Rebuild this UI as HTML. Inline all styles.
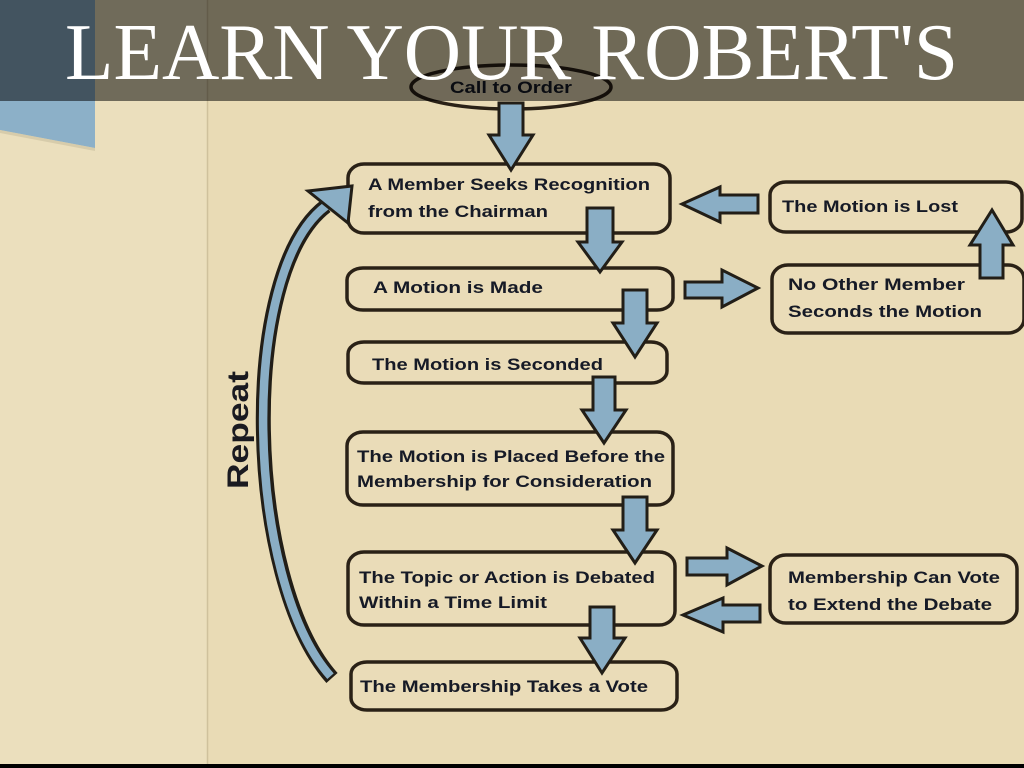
<!DOCTYPE html>
<html>
<head>
<meta charset="utf-8">
<style>
html,body{margin:0;padding:0;background:#e9dbb6;}
svg{display:block;}
.t{font-family:"Liberation Sans",Arial,sans-serif;font-weight:bold;font-size:17px;fill:#161a26;}
.box{fill:#eadcb8;stroke:#2a2116;stroke-width:3.5;}
.ar{fill:#8aaec5;stroke:#221e17;stroke-width:3;stroke-linejoin:miter;}
</style>
</head>
<body>
<svg width="1024" height="768" viewBox="0 0 1024 768" xmlns="http://www.w3.org/2000/svg">
  <!-- background -->
  <rect x="0" y="0" width="1024" height="768" fill="#e9dbb5"/>
  <rect x="0" y="0" width="207" height="768" fill="#ebdfbd"/>
  <line x1="207.5" y1="0" x2="207.5" y2="764" stroke="#cfc19c" stroke-width="1.5"/>

  <!-- blue panel top-left -->
  <polygon points="0,0 95,0 95,148 0,130" fill="#8cb0c8"/>
  <polygon points="0,130 95,148 95,151 0,133" fill="#c9bf9f" opacity="0.6"/>

  <!-- Call to Order ellipse -->
  <ellipse cx="511" cy="87" rx="100" ry="22" class="box"/>
  <text class="t" x="450" y="93" textLength="122" lengthAdjust="spacingAndGlyphs">Call to Order</text>

  <!-- Boxes -->
  <rect class="box" x="348" y="164" width="322" height="69" rx="16" ry="14"/>
  <text class="t" x="368" y="190" textLength="282" lengthAdjust="spacingAndGlyphs">A Member Seeks Recognition</text>
  <text class="t" x="368" y="217" textLength="180" lengthAdjust="spacingAndGlyphs">from the Chairman</text>

  <rect class="box" x="347" y="268" width="326" height="42" rx="16" ry="12"/>
  <text class="t" x="373" y="293" textLength="170" lengthAdjust="spacingAndGlyphs">A Motion is Made</text>

  <rect class="box" x="348" y="342" width="319" height="41" rx="16" ry="12"/>
  <text class="t" x="372" y="370" textLength="231" lengthAdjust="spacingAndGlyphs">The Motion is Seconded</text>

  <rect class="box" x="347" y="432" width="326" height="73" rx="16" ry="14"/>
  <text class="t" x="357" y="462" textLength="308" lengthAdjust="spacingAndGlyphs">The Motion is Placed Before the</text>
  <text class="t" x="357" y="487" textLength="295" lengthAdjust="spacingAndGlyphs">Membership for Consideration</text>

  <rect class="box" x="348" y="552" width="327" height="73" rx="16" ry="14"/>
  <text class="t" x="359" y="583" textLength="296" lengthAdjust="spacingAndGlyphs">The Topic or Action is Debated</text>
  <text class="t" x="359" y="608" textLength="188" lengthAdjust="spacingAndGlyphs">Within a Time Limit</text>

  <rect class="box" x="351" y="662" width="326" height="48" rx="16" ry="12"/>
  <text class="t" x="360" y="692" textLength="288" lengthAdjust="spacingAndGlyphs">The Membership Takes a Vote</text>

  <!-- Right boxes -->
  <rect class="box" x="770" y="182" width="252" height="50" rx="16" ry="13"/>
  <text class="t" x="782" y="212" textLength="176" lengthAdjust="spacingAndGlyphs">The Motion is Lost</text>

  <rect class="box" x="772" y="265" width="252" height="68" rx="16" ry="14"/>
  <text class="t" x="788" y="290" textLength="177" lengthAdjust="spacingAndGlyphs">No Other Member</text>
  <text class="t" x="788" y="317" textLength="194" lengthAdjust="spacingAndGlyphs">Seconds the Motion</text>

  <rect class="box" x="770" y="555" width="247" height="68" rx="16" ry="14"/>
  <text class="t" x="788" y="583" textLength="212" lengthAdjust="spacingAndGlyphs">Membership Can Vote</text>
  <text class="t" x="788" y="610" textLength="204" lengthAdjust="spacingAndGlyphs">to Extend the Debate</text>

  <!-- Down arrows -->
  <polygon class="ar" points="499,103 523,103 523,135 533,135 511,170 489,135 499,135"/>
  <polygon class="ar" points="587,208 613,208 613,242 622,242 600,272 578,242 587,242"/>
  <polygon class="ar" points="623,290 647,290 647,323 657,323 635,357 613,323 623,323"/>
  <polygon class="ar" points="593,377 615,377 615,410 626,410 604,443 582,410 593,410"/>
  <polygon class="ar" points="623,497 647,497 647,530 657,530 635,563 613,530 623,530"/>
  <polygon class="ar" points="590,607 614,607 614,638 625,638 602,673 580,638 590,638"/>

  <!-- Horizontal / up arrows -->
  <polygon class="ar" points="685,282 722,282 722,270 758,288 722,307 722,298 685,298"/>
  <polygon class="ar" points="758,195 720,195 720,187 682,204 720,222 720,213 758,213"/>
  <polygon class="ar" points="980,278 980,245 970,245 992,210 1013,245 1003,245 1003,278"/>
  <polygon class="ar" points="687,558 727,558 727,548 762,566 727,585 727,575 687,575"/>
  <polygon class="ar" points="760,605 723,605 723,598 683,615 723,632 723,622 760,622"/>

  <!-- Repeat curved arrow -->
  <path d="M332,678 C245,580 238,272 326,206" fill="none" stroke="#221e17" stroke-width="15" stroke-linecap="butt"/>
  <path d="M330.5,676.2 C245,580 238,272 326,206" fill="none" stroke="#8aaec5" stroke-width="8.5" stroke-linecap="butt"/>
  <polygon class="ar" points="308,191 352,186 348,223"/>

  <text x="0" y="0" transform="translate(248,489) rotate(-90)" font-family="'Liberation Sans',Arial,sans-serif" font-weight="bold" font-size="30" fill="#1a1a20" textLength="118" lengthAdjust="spacingAndGlyphs">Repeat</text>

  <!-- Header overlay -->
  <rect x="0" y="0" width="1024" height="101" fill="rgba(0,0,0,0.52)"/>
  <text x="65" y="79" font-family="'Liberation Serif','Times New Roman',serif" font-size="81" fill="#ffffff" textLength="893" lengthAdjust="spacingAndGlyphs">LEARN YOUR ROBERT'S</text>

  <!-- bottom black bar -->
  <rect x="0" y="764" width="1024" height="4" fill="#000"/>
</svg>
</body>
</html>
